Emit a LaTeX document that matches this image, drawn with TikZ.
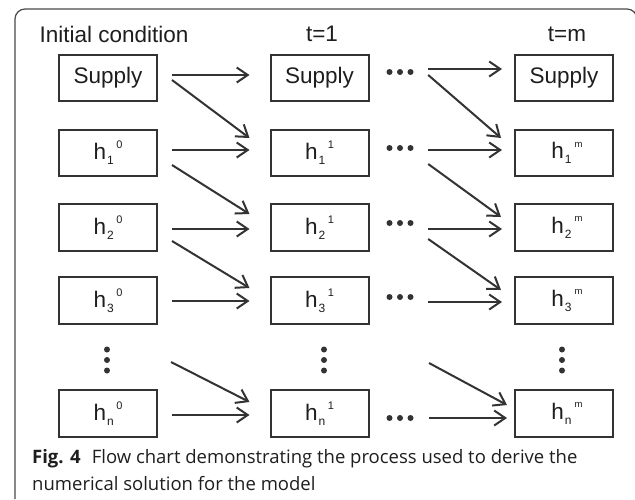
\documentclass[tikz,border=0pt]{standalone}
\usepackage{fontspec}
\setmainfont{Liberation Sans}
\newfontfamily\capfont{Open Sans}
\usetikzlibrary{arrows.meta,calc}
\definecolor{ink}{HTML}{333333}
\definecolor{framec}{HTML}{4A4A4A}
\definecolor{txt}{HTML}{1E1E1E}
\newcommand{\hsym}[2]{h\hspace{1pt}\raisebox{-5pt}{\fontsize{12}{12}\selectfont #1}\hspace{2.5pt}\raisebox{11pt}{\fontsize{11}{11}\selectfont #2}}
\newcommand{\hsymm}[1]{h\hspace{1pt}\raisebox{-5pt}{\fontsize{12}{12}\selectfont #1}\hspace{3pt}\raisebox{11.5pt}{\fontsize{9.5}{9.5}\selectfont m}}
\begin{document}
\begin{tikzpicture}[x=1pt,y=-1pt,
  box/.style={draw=ink, line width=2pt, minimum width=98pt, minimum height=46.5pt, inner sep=0pt, font=\fontsize{22.5}{24}\selectfont, text=txt},
  lab/.style={font=\fontsize{22.5}{24}\selectfont, text=txt, inner sep=0pt},
  capt/.style={font=\capfont\fontsize{18.5}{20}\selectfont, text=txt, inner sep=0pt},
  arr/.style={draw=ink, line width=2pt, -{Straight Barb[length=11pt,width=15pt]}},
  hdotsn/.style={minimum width=30pt, minimum height=8pt, inner sep=0pt,
    path picture={\foreach \dx in {-10.5,0,10.5}{\fill[ink] ($(path picture bounding box.center)+(\dx pt,0pt)$) circle[radius=3pt];}}},
  vdotsn/.style={minimum width=8pt, minimum height=30pt, inner sep=0pt,
    path picture={\foreach \dy in {-10.5,0,10.5}{\fill[ink] ($(path picture bounding box.center)+(0pt,\dy pt)$) circle[radius=3pt];}}}
]
\useasboundingbox (0,0) rectangle (635,499);
\fill[white] (0,0) rectangle (635,499);
% frame
\draw[framec, line width=1.2pt, rounded corners=10pt] (15,499) -- (15,9) -- (637,9) -- (637,499);

% headers
\node[lab, anchor=base] (lic) at (114,42) {Initial condition};
\node[lab, anchor=base] (t1) at (322,41.5) {t=1};
\node[lab, anchor=base] (tm) at (567,41.5) {t=m};

% column 1
\node[box] (s0) at (108,78) {Supply};
\node[box] (h10) at (108,153) {\hsym{1}{0}};
\node[box] (h20) at (108,227.5) {\hsym{2}{0}};
\node[box] (h30) at (108,300.5) {\hsym{3}{0}};
\node[vdotsn] (v0) at (107,360) {};
\node[box] (hn0) at (108,413.5) {\hsym{n}{0}};

% column 2
\node[box] (s1) at (319.5,78) {Supply};
\node[box] (h11) at (319.5,153) {\hsym{1}{1}};
\node[box] (h21) at (319.5,227.5) {\hsym{2}{1}};
\node[box] (h31) at (319.5,300.5) {\hsym{3}{1}};
\node[vdotsn] (v1) at (324,360) {};
\node[box] (hn1) at (319.5,413.5) {\hsym{n}{1}};

% horizontal dots
\node[hdotsn] (ds) at (400,72) {};
\node[hdotsn] (d1) at (400,148) {};
\node[hdotsn] (d2) at (400,223) {};
\node[hdotsn] (d3) at (400,297) {};
\node[hdotsn] (dn) at (400,418) {};

% column 3
\node[box] (s2) at (564,78) {Supply};
\node[box] (h12) at (564,153) {\hspace{6pt}\hsymm{1}};
\node[box] (h22) at (564,227.5) {\hspace{6pt}\hsymm{2}};
\node[box] (h32) at (564,300.5) {\hspace{6pt}\hsymm{3}};
\node[vdotsn] (v2) at (562,360) {};
\node[box] (hn2) at (564,413.5) {\hspace{6pt}\hsymm{n}};

% arrows column 1 -> column 2
\draw[arr] ([xshift=14pt,yshift=3pt]s0.east) -- ([xshift=-20pt,yshift=3pt]s1.west);
\draw[arr] ([xshift=14pt,yshift=-2pt]s0.east) -- ([xshift=-20pt,yshift=15pt]h11.west);
\draw[arr] ([xshift=14pt,yshift=3pt]h10.east) -- ([xshift=-20pt,yshift=3pt]h11.west);
\draw[arr] ([xshift=14pt,yshift=-12pt]h10.east) -- ([xshift=-20pt,yshift=13.5pt]h21.west);
\draw[arr] ([xshift=14pt,yshift=-1.5pt]h20.east) -- ([xshift=-20pt,yshift=-1.5pt]h21.west);
\draw[arr] ([xshift=14pt,yshift=-13.5pt]h20.east) -- ([xshift=-20pt,yshift=12.5pt]h31.west);
\draw[arr] ([xshift=14pt,yshift=-0.5pt]h30.east) -- ([xshift=-20pt,yshift=-0.5pt]h31.west);
\draw[arr] ([xshift=64pt,yshift=-2pt]v0.center) -- ([xshift=-20pt,yshift=11.5pt]hn1.west);
\draw[arr] ([xshift=14pt,yshift=-1.5pt]hn0.east) -- ([xshift=-20pt,yshift=-1.5pt]hn1.west);

% arrows column 2 -> column 3
\draw[arr] ([xshift=13pt,yshift=3pt]ds.east) -- ([xshift=-12pt,yshift=9pt]s2.west);
\draw[arr] ([xshift=13pt,yshift=-3pt]ds.east) -- ([xshift=-13pt,yshift=15pt]h12.west);
\draw[arr] ([xshift=13pt,yshift=-2pt]d1.east) -- ([xshift=-12pt,yshift=3pt]h12.west);
\draw[arr] ([xshift=13pt,yshift=-16pt]d1.east) -- ([xshift=-13pt,yshift=10.5pt]h22.west);
\draw[arr] ([xshift=13pt,yshift=-6pt]d2.east) -- ([xshift=-12pt,yshift=-1.5pt]h22.west);
\draw[arr] ([xshift=13pt,yshift=-16pt]d2.east) -- ([xshift=-13pt,yshift=10.5pt]h32.west);
\draw[arr] ([xshift=13pt,yshift=-5pt]d3.east) -- ([xshift=-12pt,yshift=-1.5pt]h32.west);
\draw[arr] ([xshift=105pt,yshift=-3pt]v1.center) -- ([xshift=-7pt,yshift=8.5pt]hn2.west);
\draw[arr] ([xshift=14pt]dn.east) -- ([xshift=-7pt,yshift=-4.5pt]hn2.west);

% caption
\node[capt, anchor=base west] (cap1) at (32,463) {\textbf{Fig. 4}\hspace{0.6em}Flow chart demonstrating the process used to derive the};
\node[capt, anchor=base west] (cap2) at (32,490) {numerical solution for the model};
\end{tikzpicture}
\end{document}
